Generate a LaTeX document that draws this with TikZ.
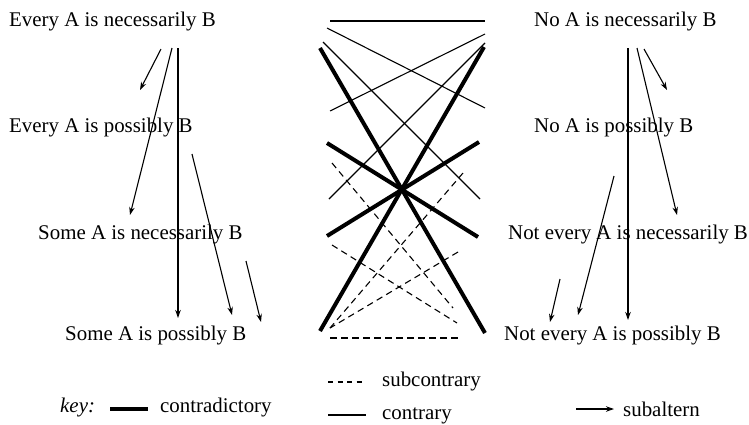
\documentclass[tikz,border=0pt]{standalone}
\usepackage{fontspec}
\setmainfont{Liberation Serif}
\usetikzlibrary{arrows.meta}
\begin{document}
\begin{tikzpicture}[x=1pt,y=-1pt,
  lbl/.style={anchor=base west,inner sep=0pt,font=\fontsize{20.9pt}{25pt}\selectfont},
  subalt/.style={line width=1.1pt,-{Stealth[length=8pt,width=5.5pt]}},
  contr/.style={line width=1.1pt},
  contrad/.style={line width=4pt},
  subc/.style={line width=1.1pt,dash pattern=on 6.5pt off 4.5pt}]
\useasboundingbox (0,0) rectangle (749,424);

% statements
\node[lbl] (L1) at (9,26) {Every A is necessarily B};
\node[lbl] (L2) at (9,132) {Every A is possibly B};
\node[lbl] (L3) at (38,239) {Some A is necessarily B};
\node[lbl] (L4) at (65,340) {Some A is possibly B};
\node[lbl] (R1) at (534,26) {No A is necessarily B};
\node[lbl] (R2) at (534,132) {No A is possibly B};
\node[lbl] (R3) at (508,239) {Not every A is necessarily B};
\node[lbl] (R4) at (504,340) {Not every A is possibly B};

% subaltern arrows, left
\coordinate (a1s) at (161,49);  \coordinate (a1e) at (140,90);
\coordinate (a2s) at (172,48);  \coordinate (a2e) at (130,215);
\coordinate (a3s) at (178,48);  \coordinate (a3e) at (178,318);
\coordinate (a4s) at (192,154); \coordinate (a4e) at (232,315);
\coordinate (a5s) at (246,261); \coordinate (a5e) at (261,322);
\foreach \i in {1,...,5} \draw[subalt] (a\i s) -- (a\i e);

% subaltern arrows, right
\coordinate (b1s) at (644,49);  \coordinate (b1e) at (667,90);
\coordinate (b2s) at (637,48);  \coordinate (b2e) at (677,215);
\coordinate (b3s) at (628,48);  \coordinate (b3e) at (628,320);
\coordinate (b4s) at (614,176); \coordinate (b4e) at (578,315);
\coordinate (b5s) at (560,279); \coordinate (b5e) at (550,322);
\foreach \i in {1,...,5} \draw[subalt] (b\i s) -- (b\i e);

% contrary
\coordinate (c1s) at (330,21);  \coordinate (c1e) at (485,21);
\coordinate (c2s) at (327,28);  \coordinate (c2e) at (485,108);
\coordinate (c3s) at (323,42);  \coordinate (c3e) at (480,199);
\coordinate (c4s) at (485,34);  \coordinate (c4e) at (330,111);
\coordinate (c5s) at (485,43);  \coordinate (c5e) at (329,199);
\foreach \i in {1,...,5} \draw[contr] (c\i s) -- (c\i e);

% contradictory
\coordinate (d1s) at (320,48);  \coordinate (d1e) at (485,333);
\coordinate (d2s) at (484,47);  \coordinate (d2e) at (320,331);
\coordinate (d3s) at (327,143); \coordinate (d3e) at (478,237);
\coordinate (d4s) at (479,142); \coordinate (d4e) at (327,236);
\foreach \i in {1,...,4} \draw[contrad] (d\i s) -- (d\i e);

% subcontrary
\coordinate (e1s) at (332,163); \coordinate (e1e) at (453,308);
\coordinate (e2s) at (463,173); \coordinate (e2e) at (330,328);
\coordinate (e3s) at (332,245); \coordinate (e3e) at (457,323);
\coordinate (e4s) at (458,252); \coordinate (e4e) at (330,328);
\coordinate (e5s) at (330,338); \coordinate (e5e) at (458,338);
\foreach \i in {1,...,5} \draw[subc] (e\i s) -- (e\i e);

% key
\node[lbl,font=\fontsize{20.9pt}{25pt}\selectfont\itshape] (key) at (60,412) {key:};
\coordinate (k1s) at (110,409); \coordinate (k1e) at (148,409);
\draw[contrad] (k1s) -- (k1e);
\node[lbl] (kcd) at (160,412) {contradictory};
\coordinate (k2s) at (328,382); \coordinate (k2e) at (364,382);
\draw[subc,dash pattern=on 5pt off 4.5pt] (k2s) -- (k2e);
\node[lbl] (ksc) at (382,386) {subcontrary};
\coordinate (k3s) at (328,415); \coordinate (k3e) at (366,415);
\draw[contr] (k3s) -- (k3e);
\node[lbl] (kc) at (382,419) {contrary};
\coordinate (k4s) at (576,409); \coordinate (k4e) at (614,409);
\draw[subalt] (k4s) -- (k4e);
\node[lbl] (ksa) at (623,416) {subaltern};
\end{tikzpicture}
\end{document}
